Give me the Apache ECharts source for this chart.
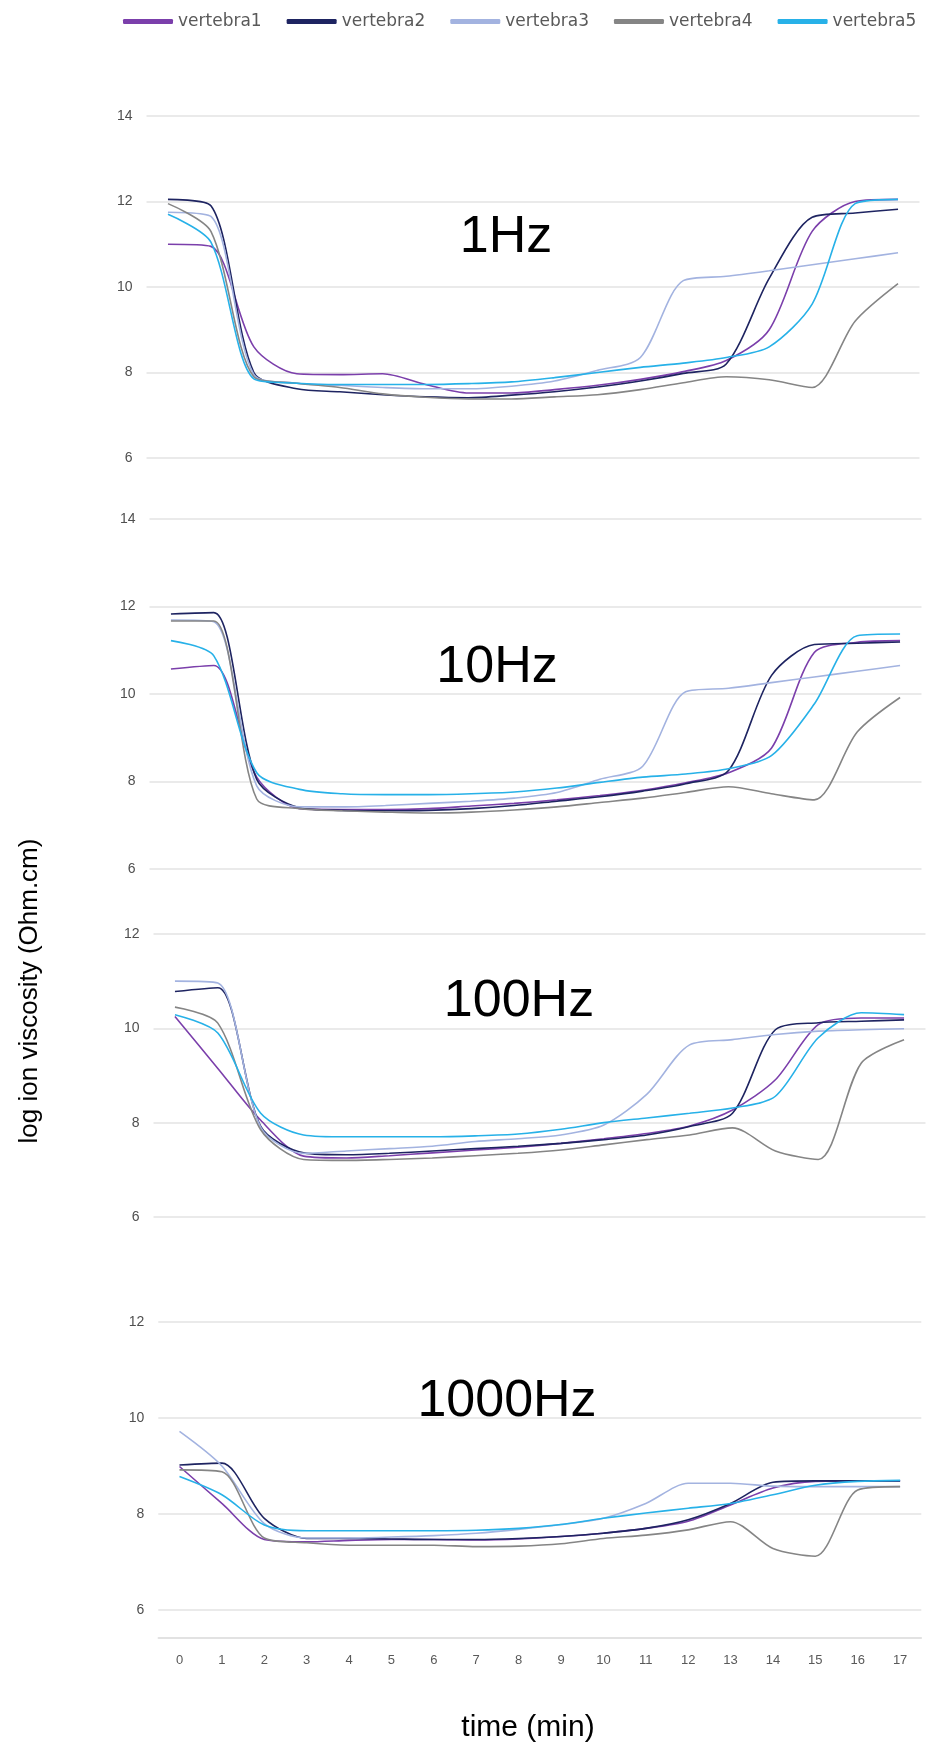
<!DOCTYPE html>
<html>
<head>
<meta charset="utf-8">
<script src="https://cdn.jsdelivr.net/npm/echarts@6/dist/echarts.min.js"></script>
<style>
html,body{margin:0;padding:0;background:#fff;}
#chart{width:931px;height:1747px;}
</style>
</head>
<body>
<div id="chart"></div>
<script>
// ---- data ----
const minutes = ['0','1','2','3','4','5','6','7','8','9','10','11','12','13','14','15','16','17'];
const seriesNames = ['vertebra1','vertebra2','vertebra3','vertebra4','vertebra5'];
const panelTitles = ['1Hz','10Hz','100Hz','1000Hz'];
const yMin = [6, 6, 6, 6];
const yMax = [14, 14, 12, 12];

// 1 Hz
const hz1_v1 = [11.0, 10.95, 8.6, 7.97, 7.95, 7.97, 7.72, 7.52, 7.52, 7.6, 7.7, 7.84, 8.02, 8.28, 9.0, 11.3, 12.0, 12.05];
const hz1_v2 = [12.05, 11.9, 8.0, 7.62, 7.55, 7.48, 7.43, 7.41, 7.47, 7.55, 7.66, 7.8, 7.98, 8.2, 10.2, 11.63, 11.73, 11.82];
const hz1_v3 = [11.75, 11.65, 7.95, 7.75, 7.7, 7.65, 7.62, 7.62, 7.68, 7.8, 8.05, 8.35, 10.15, 10.25, 10.38, 10.52, 10.66, 10.8];
const hz1_v4 = [11.95, 11.3, 7.9, 7.75, 7.65, 7.5, 7.42, 7.38, 7.38, 7.43, 7.48, 7.6, 7.76, 7.9, 7.83, 7.65, 9.2, 10.08];
const hz1_v5 = [11.7, 11.05, 7.85, 7.75, 7.72, 7.72, 7.72, 7.74, 7.78, 7.88, 8.0, 8.12, 8.22, 8.35, 8.6, 9.6, 11.95, 12.05];

// 10 Hz
const hz10_v1 = [10.57, 10.65, 8.1, 7.38, 7.36, 7.36, 7.38, 7.44, 7.5, 7.58, 7.68, 7.8, 7.97, 8.2, 8.76, 10.95, 11.18, 11.22];
const hz10_v2 = [11.83, 11.86, 8.05, 7.4, 7.34, 7.33, 7.34, 7.38, 7.45, 7.55, 7.65, 7.78, 7.95, 8.25, 10.42, 11.13, 11.16, 11.19];
const hz10_v3 = [11.69, 11.65, 7.9, 7.42, 7.42, 7.45, 7.5, 7.55, 7.62, 7.75, 8.05, 8.35, 10.05, 10.13, 10.26, 10.39, 10.52, 10.65];
const hz10_v4 = [11.67, 11.67, 7.6, 7.38, 7.33, 7.3, 7.28, 7.3, 7.35, 7.42, 7.52, 7.62, 7.75, 7.88, 7.72, 7.58, 9.13, 9.92];
const hz10_v5 = [11.22, 10.87, 8.2, 7.82, 7.72, 7.7, 7.7, 7.72, 7.76, 7.85, 7.98, 8.1, 8.17, 8.29, 8.59, 9.77, 11.33, 11.37];

// 100 Hz
const hz100_v1 = [10.25, 9.15, 8.05, 7.29, 7.25, 7.3, 7.36, 7.42, 7.48, 7.56, 7.66, 7.77, 7.93, 8.27, 8.91, 10.08, 10.22, 10.22];
const hz100_v2 = [10.78, 10.86, 7.92, 7.36, 7.32, 7.35, 7.4, 7.45, 7.5, 7.56, 7.64, 7.74, 7.92, 8.2, 9.97, 10.12, 10.15, 10.18];
const hz100_v3 = [11.0, 10.96, 7.9, 7.35, 7.4, 7.45, 7.5, 7.6, 7.66, 7.74, 7.95, 8.6, 9.65, 9.76, 9.87, 9.94, 9.97, 9.99];
const hz100_v4 = [10.45, 10.11, 7.85, 7.22, 7.2, 7.22, 7.25, 7.3, 7.35, 7.42, 7.53, 7.64, 7.74, 7.89, 7.4, 7.22, 9.26, 9.76];
const hz100_v5 = [10.29, 9.9, 8.2, 7.74, 7.7, 7.7, 7.7, 7.72, 7.76, 7.86, 8.0, 8.1, 8.2, 8.31, 8.56, 9.8, 10.33, 10.29];

// 1000 Hz
const hz1000_v1 = [8.99, 8.22, 7.47, 7.42, 7.45, 7.47, 7.47, 7.46, 7.48, 7.53, 7.6, 7.7, 7.85, 8.19, 8.54, 8.68, 8.69, 8.69];
const hz1000_v2 = [9.02, 9.06, 7.91, 7.49, 7.49, 7.48, 7.47, 7.47, 7.49, 7.53, 7.6, 7.7, 7.88, 8.22, 8.66, 8.69, 8.69, 8.69];
const hz1000_v3 = [9.72, 9.0, 7.8, 7.5, 7.5, 7.52, 7.55, 7.6, 7.68, 7.78, 7.91, 8.22, 8.64, 8.64, 8.58, 8.57, 8.57, 8.57];
const hz1000_v4 = [8.92, 8.88, 7.5, 7.4, 7.35, 7.35, 7.35, 7.32, 7.33, 7.38, 7.49, 7.56, 7.67, 7.84, 7.28, 7.12, 8.5, 8.57];
const hz1000_v5 = [8.78, 8.4, 7.77, 7.65, 7.65, 7.65, 7.65, 7.66, 7.7, 7.78, 7.91, 8.02, 8.12, 8.22, 8.4, 8.6, 8.68, 8.7];

const panels = [
  [hz1_v1, hz1_v2, hz1_v3, hz1_v4, hz1_v5],
  [hz10_v1, hz10_v2, hz10_v3, hz10_v4, hz10_v5],
  [hz100_v1, hz100_v2, hz100_v3, hz100_v4, hz100_v5],
  [hz1000_v1, hz1000_v2, hz1000_v3, hz1000_v4, hz1000_v5]
];

// ---- styling / layout ----
const colors = ['#7B3FAB', '#1E2461', '#A3B3E0', '#858585', '#27B1E8'];
const gridBoxes = [
  {left: 146.5, top: 116, width: 773, height: 342},
  {left: 149.5, top: 519, width: 772, height: 350},
  {left: 153.5, top: 934, width: 772, height: 283},
  {left: 158.3, top: 1322, width: 763, height: 288}
];
const titlePos = [[506, 238], [497, 668], [519, 1002], [507, 1402]];
const FONT = 'Liberation Sans, Arial, sans-serif';

const chart = echarts.init(document.getElementById('chart'), null, {renderer: 'canvas'});

const grid = gridBoxes.map(g => Object.assign({containLabel: false}, g));
const xAxis = gridBoxes.map((g, i) => ({
  type: 'category',
  gridIndex: i,
  data: minutes,
  boundaryGap: true,
  show: i === 3,
  offset: i === 3 ? 28 : 0,
  axisLine: {show: true, lineStyle: {color: '#D9D9D9', width: 1.5}},
  axisTick: {show: false},
  axisLabel: {color: '#595959', fontSize: 13, fontFamily: FONT, margin: 16, interval: 0}
}));
const yAxis = gridBoxes.map((g, i) => ({
  type: 'value',
  gridIndex: i,
  min: yMin[i],
  max: yMax[i],
  interval: 2,
  axisLine: {show: false},
  axisTick: {show: false},
  axisLabel: {color: '#4F4F4F', fontSize: 14, fontFamily: FONT, margin: 14},
  splitLine: {show: true, lineStyle: {color: '#E3E3E3', width: 1.5}}
}));

const series = [];
panels.forEach((panel, p) => {
  panel.forEach((vals, s) => {
    series.push({
      name: seriesNames[s],
      type: 'line',
      xAxisIndex: p,
      yAxisIndex: p,
      data: vals,
      smooth: 0.28,
      showSymbol: false,
      symbol: 'none',
      lineStyle: {color: colors[s], width: 1.6},
      itemStyle: {color: colors[s]},
      emphasis: {disabled: true}
    });
  });
});

const graphic = panelTitles.map((t, i) => ({
  type: 'text',
  x: titlePos[i][0],
  y: titlePos[i][1],
  style: {text: t, fontSize: 52, fontFamily: FONT, fill: '#000', textAlign: 'center', textVerticalAlign: 'middle'}
}));
graphic.push({
  type: 'text', x: 30, y: 991, rotation: Math.PI / 2,
  style: {text: 'log ion viscosity (Ohm.cm)', fontSize: 26, fontFamily: FONT, fill: '#000', textAlign: 'center', textVerticalAlign: 'middle'}
});
graphic.push({
  type: 'text', x: 528, y: 1728,
  style: {text: 'time (min)', fontSize: 30, fontFamily: FONT, fill: '#000', textAlign: 'center', textVerticalAlign: 'middle'}
});

chart.setOption({
  animation: false,
  backgroundColor: '#fff',
  color: colors,
  legend: {
    data: seriesNames,
    top: 8,
    left: 118,
    icon: 'roundRect',
    itemWidth: 50,
    itemHeight: 5,
    itemGap: 25,
    textStyle: {color: '#595959', fontSize: 17, fontFamily: 'DejaVu Sans, sans-serif'}
  },
  grid: grid,
  xAxis: xAxis,
  yAxis: yAxis,
  series: series,
  graphic: graphic
});
</script>
</body>
</html>
